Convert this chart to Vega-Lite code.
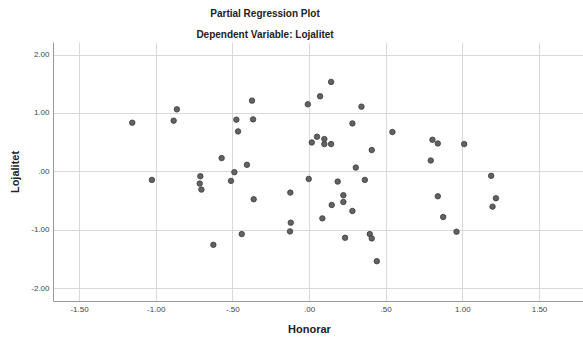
{
  "$schema": "https://vega.github.io/schema/vega-lite/v6.json",
  "autosize": "none",
  "padding": {"left": 53, "top": 42, "right": 0, "bottom": 44},
  "width": 530,
  "height": 259,
  "background": "white",
  "title": {
    "text": "Partial Regression Plot",
    "subtitle": "Dependent Variable: Lojalitet",
    "anchor": "middle",
    "frame": "group",
    "dx": -53,
    "offset": 2.5,
    "font": "Liberation Sans",
    "fontSize": 10,
    "fontWeight": "bold",
    "color": "#222222",
    "subtitleFont": "Liberation Sans",
    "subtitleFontSize": 10,
    "subtitleFontWeight": "bold",
    "subtitleColor": "#222222",
    "subtitlePadding": 11
  },
  "config": {
    "view": {"stroke": null},
    "axis": {
      "labelFont": "Liberation Sans",
      "labelFontSize": 8,
      "labelColor": "#444444",
      "titleFont": "Liberation Sans",
      "titleFontSize": 11,
      "titleFontWeight": "bold",
      "titleColor": "#222222",
      "gridColor": "#d9d9d9",
      "gridWidth": 1,
      "domainColor": "#999999",
      "domainWidth": 1,
      "ticks": false
    }
  },
  "data": {
    "values": [
      {"Honorar": -1.153, "Lojalitet": 0.833},
      {"Honorar": -0.862, "Lojalitet": 1.062},
      {"Honorar": -0.883, "Lojalitet": 0.868},
      {"Honorar": -0.474, "Lojalitet": 0.885},
      {"Honorar": -0.463, "Lojalitet": 0.684},
      {"Honorar": -0.570, "Lojalitet": 0.227},
      {"Honorar": -0.487, "Lojalitet": -0.014},
      {"Honorar": -0.509, "Lojalitet": -0.163},
      {"Honorar": -1.025, "Lojalitet": -0.146},
      {"Honorar": -0.709, "Lojalitet": -0.083},
      {"Honorar": -0.713, "Lojalitet": -0.209},
      {"Honorar": -0.702, "Lojalitet": -0.312},
      {"Honorar": 0.144, "Lojalitet": 1.532},
      {"Honorar": 0.072, "Lojalitet": 1.285},
      {"Honorar": -0.008, "Lojalitet": 1.148},
      {"Honorar": 0.342, "Lojalitet": 1.108},
      {"Honorar": -0.372, "Lojalitet": 1.211},
      {"Honorar": -0.365, "Lojalitet": 0.890},
      {"Honorar": 0.283, "Lojalitet": 0.821},
      {"Honorar": 0.544, "Lojalitet": 0.673},
      {"Honorar": 0.052, "Lojalitet": 0.593},
      {"Honorar": 0.018, "Lojalitet": 0.495},
      {"Honorar": 0.100, "Lojalitet": 0.553},
      {"Honorar": 0.100, "Lojalitet": 0.467},
      {"Honorar": 0.144, "Lojalitet": 0.467},
      {"Honorar": 0.409, "Lojalitet": 0.364},
      {"Honorar": -0.405, "Lojalitet": 0.112},
      {"Honorar": 0.305, "Lojalitet": 0.065},
      {"Honorar": -0.002, "Lojalitet": -0.129},
      {"Honorar": 0.187, "Lojalitet": -0.175},
      {"Honorar": 0.364, "Lojalitet": -0.146},
      {"Honorar": -0.122, "Lojalitet": -0.364},
      {"Honorar": -0.361, "Lojalitet": -0.478},
      {"Honorar": 0.224, "Lojalitet": -0.409},
      {"Honorar": 0.224, "Lojalitet": -0.524},
      {"Honorar": 0.148, "Lojalitet": -0.576},
      {"Honorar": 0.283, "Lojalitet": -0.679},
      {"Honorar": 0.087, "Lojalitet": -0.805},
      {"Honorar": -0.119, "Lojalitet": -0.879},
      {"Honorar": -0.124, "Lojalitet": -1.028},
      {"Honorar": -0.439, "Lojalitet": -1.074},
      {"Honorar": 0.235, "Lojalitet": -1.137},
      {"Honorar": 0.396, "Lojalitet": -1.074},
      {"Honorar": 0.409, "Lojalitet": -1.148},
      {"Honorar": 0.442, "Lojalitet": -1.538},
      {"Honorar": -0.624, "Lojalitet": -1.258},
      {"Honorar": 0.805, "Lojalitet": 0.541},
      {"Honorar": 0.840, "Lojalitet": 0.478},
      {"Honorar": 1.012, "Lojalitet": 0.467},
      {"Honorar": 0.794, "Lojalitet": 0.186},
      {"Honorar": 1.188, "Lojalitet": -0.077},
      {"Honorar": 0.840, "Lojalitet": -0.427},
      {"Honorar": 1.219, "Lojalitet": -0.461},
      {"Honorar": 1.197, "Lojalitet": -0.604},
      {"Honorar": 0.875, "Lojalitet": -0.782},
      {"Honorar": 0.962, "Lojalitet": -1.034}
    ]
  },
  "mark": {
    "type": "point",
    "shape": "circle",
    "filled": true,
    "size": 30,
    "fill": "#626262",
    "fillOpacity": 1,
    "stroke": "#3a3a3a",
    "strokeWidth": 0.8,
    "opacity": 1
  },
  "encoding": {
    "x": {
      "field": "Honorar",
      "type": "quantitative",
      "scale": {"domain": [-1.67, 1.787], "nice": false, "zero": false},
      "axis": {
        "title": "Honorar",
        "values": [-1.5, -1, -0.5, 0, 0.5, 1, 1.5],
        "labelExpr": "datum.value == -1.5 ? '-1.50' : datum.value == -1 ? '-1.00' : datum.value == -0.5 ? '-.50' : datum.value == 0 ? '.00' : datum.value == 0.5 ? '.50' : datum.value == 1 ? '1.00' : '1.50'",
        "labelPadding": 4,
        "titlePadding": 10,
        "titleX": 256
      }
    },
    "y": {
      "field": "Lojalitet",
      "type": "quantitative",
      "scale": {"domain": [-2.22, 2.215], "nice": false, "zero": false},
      "axis": {
        "title": "Lojalitet",
        "values": [-2, -1, 0, 1, 2],
        "labelExpr": "datum.value == -2 ? '-2.00' : datum.value == -1 ? '-1.00' : datum.value == 0 ? '.00' : datum.value == 1 ? '1.00' : '2.00'",
        "labelPadding": 4,
        "titlePadding": 10
      }
    }
  }
}
